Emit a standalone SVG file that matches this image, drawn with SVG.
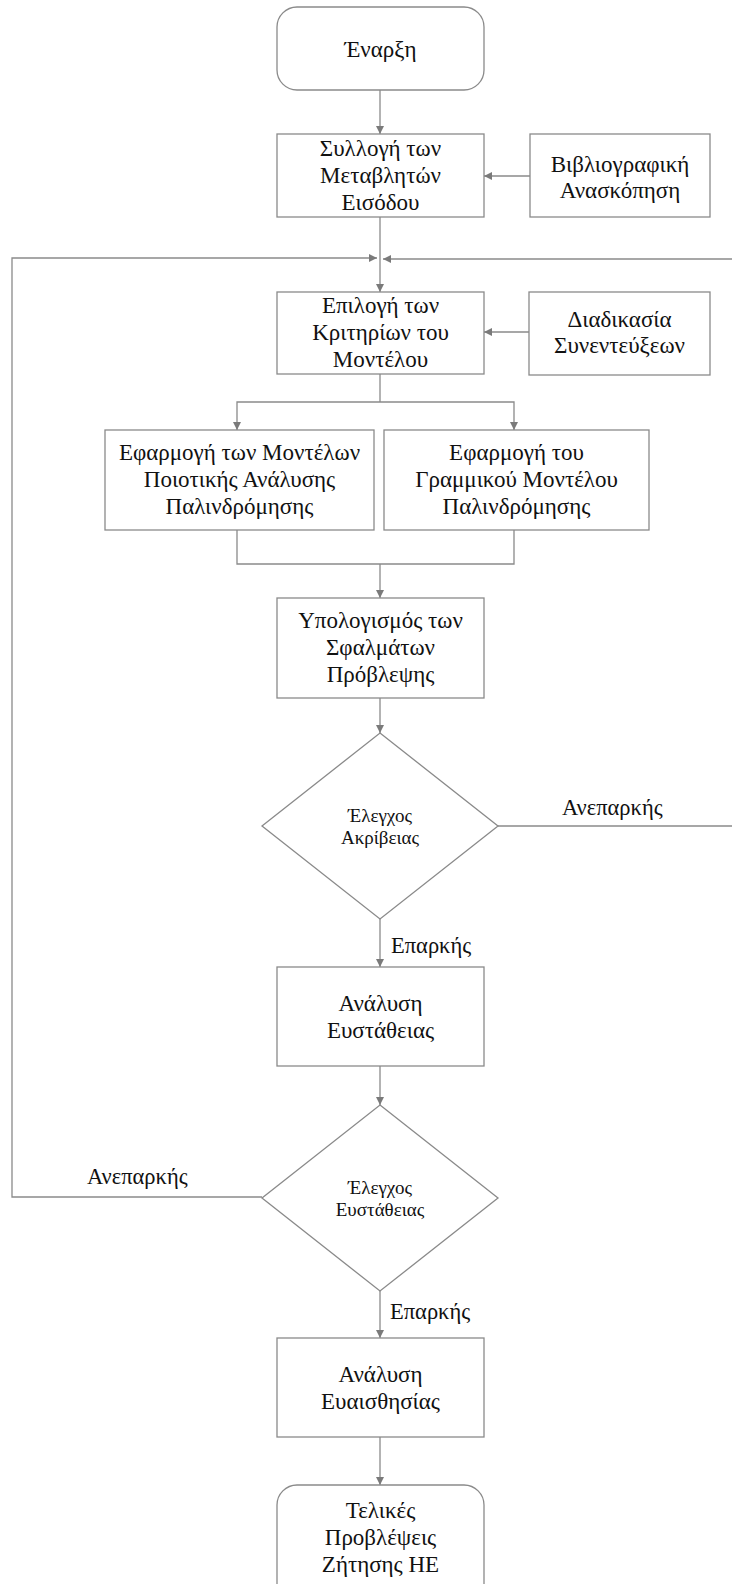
<svg xmlns="http://www.w3.org/2000/svg" width="732" height="1584" viewBox="0 0 732 1584">
  <style>
    .box { fill: #ffffff; stroke: #8a8a8a; stroke-width: 1.3; }
    .wire { fill: none; stroke: #8a8a8a; stroke-width: 1.3; }
    .arrow { fill: none; stroke: #8a8a8a; stroke-width: 1.3; marker-end: url(#head); }
    text { font-family: "Liberation Serif", "DejaVu Serif", "Times New Roman", serif; fill: #111111; }
    .t { font-size: 23px; text-anchor: middle; }
    .d { font-size: 19px; text-anchor: middle; }
    .lbl { font-size: 22.5px; }
  </style>
  <defs>
    <marker id="head" viewBox="0 0 10 10" refX="10" refY="5" markerWidth="8" markerHeight="8" markerUnits="userSpaceOnUse" orient="auto">
      <path d="M0,0 L10,5 L0,10 z" fill="#7a7a7a"/>
    </marker>
  </defs>

  <rect width="732" height="1584" fill="#ffffff"/>

  <!-- connectors -->
  <g id="connectors">
    <line class="arrow" x1="380" y1="90" x2="380" y2="134"/>
    <line class="arrow" x1="530" y1="176" x2="484" y2="176"/>
    <line class="arrow" x1="380" y1="217" x2="380" y2="292"/>
    <!-- return paths from the two checks -->
    <polyline class="arrow" points="262,1197 12,1197 12,258 377,258"/>
    <polyline class="arrow" points="498,826 733,826 733,259 383,259"/>
    <line class="arrow" x1="529" y1="332" x2="484" y2="332"/>
    <!-- split into the two model boxes -->
    <polyline class="wire" points="380,374 380,402"/>
    <polyline class="arrow" points="380,402 237,402 237,430"/>
    <polyline class="arrow" points="380,402 514,402 514,430"/>
    <!-- merge -->
    <polyline class="wire" points="237,530 237,564 514,564 514,530"/>
    <line class="arrow" x1="380" y1="564" x2="380" y2="598"/>
    <line class="arrow" x1="380" y1="698" x2="380" y2="733"/>
    <line class="arrow" x1="380" y1="919" x2="380" y2="967"/>
    <line class="arrow" x1="380" y1="1066" x2="380" y2="1105"/>
    <line class="arrow" x1="380" y1="1291" x2="380" y2="1338"/>
    <line class="arrow" x1="380" y1="1437" x2="380" y2="1485"/>
    <text class="lbl" x="562" y="815">Ανεπαρκής</text>
    <text class="lbl" x="391" y="953">Επαρκής</text>
    <text class="lbl" x="87" y="1184">Ανεπαρκής</text>
    <text class="lbl" x="390" y="1319">Επαρκής</text>
  </g>

  <g id="start">
    <rect class="box" x="277" y="7" width="207" height="83" rx="20" ry="20"/>
    <text class="t" x="380.5" y="57">Έναρξη</text>
  </g>

  <g id="collect">
    <rect class="box" x="277" y="134" width="207" height="83"/>
    <text class="t" x="380.5" y="156">Συλλογή των</text>
    <text class="t" x="380.5" y="183">Μεταβλητών</text>
    <text class="t" x="380.5" y="210">Εισόδου</text>
  </g>

  <g id="review">
    <rect class="box" x="530" y="134" width="180" height="83"/>
    <text class="t" x="620" y="172">Βιβλιογραφική</text>
    <text class="t" x="620" y="198">Ανασκόπηση</text>
  </g>

  <g id="criteria">
    <rect class="box" x="277" y="292" width="207" height="82"/>
    <text class="t" x="380.5" y="313">Επιλογή των</text>
    <text class="t" x="380.5" y="340">Κριτηρίων του</text>
    <text class="t" x="380.5" y="367">Μοντέλου</text>
  </g>

  <g id="interviews">
    <rect class="box" x="529" y="292" width="181" height="83"/>
    <text class="t" x="619.5" y="327">Διαδικασία</text>
    <text class="t" x="619.5" y="353">Συνεντεύξεων</text>
  </g>

  <g id="qualitative">
    <rect class="box" x="105" y="430" width="269" height="100"/>
    <text class="t" x="239.5" y="460">Εφαρμογή των Μοντέλων</text>
    <text class="t" x="239.5" y="487">Ποιοτικής Ανάλυσης</text>
    <text class="t" x="239.5" y="514">Παλινδρόμησης</text>
  </g>

  <g id="linear">
    <rect class="box" x="384" y="430" width="265" height="100"/>
    <text class="t" x="516.5" y="460">Εφαρμογή του</text>
    <text class="t" x="516.5" y="487">Γραμμικού Μοντέλου</text>
    <text class="t" x="516.5" y="514">Παλινδρόμησης</text>
  </g>

  <g id="errors">
    <rect class="box" x="277" y="598" width="207" height="100"/>
    <text class="t" x="380.5" y="628">Υπολογισμός των</text>
    <text class="t" x="380.5" y="655">Σφαλμάτων</text>
    <text class="t" x="380.5" y="682">Πρόβλεψης</text>
  </g>

  <g id="accuracy-check">
    <polygon class="box" points="380,733 498,826 380,919 262,826"/>
    <text class="d" x="380" y="822">Έλεγχος</text>
    <text class="d" x="380" y="844">Ακρίβειας</text>
  </g>

  <g id="stability">
    <rect class="box" x="277" y="967" width="207" height="99"/>
    <text class="t" x="380.5" y="1011">Ανάλυση</text>
    <text class="t" x="380.5" y="1038">Ευστάθειας</text>
  </g>

  <g id="stability-check">
    <polygon class="box" points="380,1105 498,1198 380,1291 262,1198"/>
    <text class="d" x="380" y="1194">Έλεγχος</text>
    <text class="d" x="380" y="1216">Ευστάθειας</text>
  </g>

  <g id="sensitivity">
    <rect class="box" x="277" y="1338" width="207" height="99"/>
    <text class="t" x="380.5" y="1382">Ανάλυση</text>
    <text class="t" x="380.5" y="1409">Ευαισθησίας</text>
  </g>

  <g id="final">
    <rect class="box" x="277" y="1485" width="207" height="120" rx="20" ry="20"/>
    <text class="t" x="380.5" y="1518">Τελικές</text>
    <text class="t" x="380.5" y="1545">Προβλέψεις</text>
    <text class="t" x="380.5" y="1572">Ζήτησης ΗΕ</text>
  </g>
</svg>
